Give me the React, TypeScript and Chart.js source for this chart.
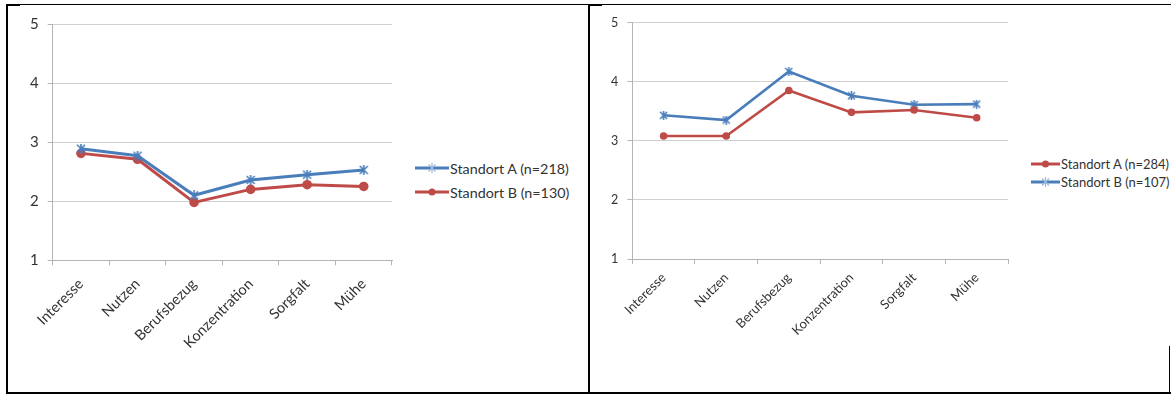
import React, { useEffect, useRef } from "react";
import { Chart, registerables } from "chart.js";

Chart.register(...registerables);

// Shared categories and value axis
const categories = ["Interesse", "Nutzen", "Berufsbezug", "Konzentration", "Sorgfalt", "Mühe"];
const yTicks = [1, 2, 3, 4, 5];

// Left panel
const leftLabelA = "Standort A (n=218)";
const leftValuesA = [2.89, 2.77, 2.1, 2.36, 2.45, 2.53];
const leftLabelB = "Standort B (n=130)";
const leftValuesB = [2.81, 2.71, 1.98, 2.2, 2.28, 2.25];

// Right panel
const rightLabelA = "Standort A (n=284)";
const rightValuesA = [3.08, 3.08, 3.85, 3.48, 3.52, 3.39];
const rightLabelB = "Standort B (n=107)";
const rightValuesB = [3.43, 3.35, 4.17, 3.76, 3.61, 3.62];

const BLUE = "#4a7ebb";
const RED = "#be4b48";
const FONT = "Lato, 'Open Sans', sans-serif";
const TEXT = "#333333";
const GRID = "#d0d0d0";
const AXIS = "#b4b4b4";

// Asterisk-shaped marker (two diagonals and a vertical stroke)
function makeStar(size: number, color: string): HTMLCanvasElement {
  const c = document.createElement("canvas");
  c.width = size;
  c.height = size;
  const g = c.getContext("2d")!;
  g.strokeStyle = color;
  g.lineWidth = 1.6;
  const m = 1;
  g.beginPath();
  g.moveTo(m, m);
  g.lineTo(size - m, size - m);
  g.moveTo(size - m, m);
  g.lineTo(m, size - m);
  g.moveTo(size / 2, 0);
  g.lineTo(size / 2, size);
  g.stroke();
  return c;
}

type Series = { label: string; values: number[]; color: string; marker: "circle" | "star" };

type PanelProps = {
  left: number;
  top: number;
  width: number;
  height: number;
  series: Series[];
  catFont: number;
  valFont: number;
  yAxisWidth: number;
  xAxisHeight: number;
  padTop: number;
  padRight: number;
  lineWidth: number;
  dotRadius: number;
  starSize: number;
  yPad: number;
  xPad: number;
};

function LinePanel(p: PanelProps) {
  const ref = useRef<HTMLCanvasElement>(null);
  useEffect(() => {
    const datasets = p.series.map((s) => ({
      label: s.label,
      data: s.values,
      borderColor: s.color,
      backgroundColor: s.color,
      borderWidth: p.lineWidth,
      pointStyle: s.marker === "star" ? makeStar(p.starSize, s.color) : "circle",
      pointRadius: p.dotRadius,
      pointBackgroundColor: s.color,
      pointBorderColor: s.color,
      pointBorderWidth: 0,
      tension: 0,
    }));
    const chart = new Chart(ref.current!, {
      type: "line",
      data: { labels: categories, datasets: datasets as any },
      options: {
        animation: false,
        responsive: false,
        maintainAspectRatio: false,
        layout: { padding: { top: p.padTop, right: p.padRight, left: 0, bottom: 0 } },
        plugins: { legend: { display: false }, tooltip: { enabled: false } },
        scales: {
          x: {
            offset: true,
            grid: {
              offset: true,
              drawOnChartArea: false,
              drawTicks: true,
              tickLength: 5,
              color: AXIS,
            },
            border: { color: AXIS, width: 1 },
            ticks: {
              autoSkip: false,
              maxRotation: 45,
              minRotation: 45,
              padding: p.xPad,
              color: TEXT,
              font: { family: FONT, size: p.catFont },
            },
            afterFit: (scale: any) => {
              scale.height = p.xAxisHeight;
            },
          },
          y: {
            min: 1,
            max: 5,
            afterBuildTicks: (scale: any) => {
              scale.ticks = yTicks.map((v) => ({ value: v }));
            },
            grid: { color: GRID, tickLength: 5, tickColor: AXIS },
            border: { color: AXIS, width: 1 },
            ticks: {
              padding: p.yPad,
              color: TEXT,
              font: { family: FONT, size: p.valFont },
            },
            afterFit: (scale: any) => {
              scale.width = p.yAxisWidth;
            },
          },
        },
      },
    });
    return () => chart.destroy();
  }, []);
  return (
    <canvas
      ref={ref}
      width={p.width}
      height={p.height}
      style={{ position: "absolute", left: p.left, top: p.top, width: p.width, height: p.height }}
    />
  );
}

function LegendMarker({ s, w }: { s: Series; w: number }) {
  const h = 10;
  const cx = w / 2;
  return (
    <svg width={w} height={h} style={{ display: "block", flex: "none" }}>
      <line x1={0} y1={h / 2} x2={w} y2={h / 2} stroke={s.color} strokeWidth={3} />
      {s.marker === "circle" ? (
        <circle cx={cx} cy={h / 2} r={3.5} fill={s.color} />
      ) : (
        <g stroke="#9dbbe0" strokeWidth={1.2}>
          <line x1={cx - 3.5} y1={h / 2 - 3.5} x2={cx + 3.5} y2={h / 2 + 3.5} />
          <line x1={cx + 3.5} y1={h / 2 - 3.5} x2={cx - 3.5} y2={h / 2 + 3.5} />
          <line x1={cx} y1={0} x2={cx} y2={h} />
        </g>
      )}
    </svg>
  );
}

function Legend({
  x,
  y,
  gap,
  lineW,
  fontSize,
  items,
}: {
  x: number;
  y: number;
  gap: number;
  lineW: number;
  fontSize: number;
  items: Series[];
}) {
  return (
    <div style={{ position: "absolute", left: x, top: y }}>
      {items.map((s, i) => (
        <div
          key={s.label}
          style={{
            position: "absolute",
            left: 0,
            top: i * gap - 10,
            height: 20,
            display: "flex",
            alignItems: "center",
            whiteSpace: "nowrap",
            fontFamily: FONT,
            fontSize,
            color: TEXT,
          }}
        >
          <LegendMarker s={s} w={lineW} />
          <span style={{ marginLeft: 1 }}>{s.label}</span>
        </div>
      ))}
    </div>
  );
}

const line = (l: number, t: number, w: number, h: number) => (
  <div style={{ position: "absolute", left: l, top: t, width: w, height: h, background: "#000" }} />
);

export default function App() {
  const leftSeries: Series[] = [
    { label: leftLabelA, values: leftValuesA, color: BLUE, marker: "star" },
    { label: leftLabelB, values: leftValuesB, color: RED, marker: "circle" },
  ];
  const rightSeries: Series[] = [
    { label: rightLabelA, values: rightValuesA, color: RED, marker: "circle" },
    { label: rightLabelB, values: rightValuesB, color: BLUE, marker: "star" },
  ];
  return (
    <div
      style={{
        position: "fixed",
        left: 0,
        top: 0,
        width: 1171,
        height: 394,
        background: "#fff",
        overflow: "hidden",
      }}
    >
      {/* frame */}
      {line(6, 4, 1165, 1)}
      {line(6, 4, 14, 2)}
      {line(588, 4, 14, 2)}
      {line(6, 4, 2, 390)}
      {line(588, 4, 2, 390)}
      {line(6, 392, 1165, 2)}
      {line(1169, 346, 1, 48)}

      <LinePanel
        left={10}
        top={6}
        width={390}
        height={384}
        series={leftSeries}
        catFont={14.6}
        valFont={15}
        yAxisWidth={42.7}
        xAxisHeight={129.7}
        padTop={16.7}
        padRight={8}
        lineWidth={3}
        dotRadius={4.8}
        starSize={10}
        yPad={9}
        xPad={10}
      />
      <Legend x={415} y={168} gap={24} lineW={34} fontSize={14.3} items={leftSeries} />

      <LinePanel
        left={592}
        top={6}
        width={420}
        height={384}
        series={rightSeries}
        catFont={13}
        valFont={12.5}
        yAxisWidth={40.3}
        xAxisHeight={131}
        padTop={15}
        padRight={2}
        lineWidth={2.6}
        dotRadius={3.8}
        starSize={9}
        yPad={9}
        xPad={6}
      />
      <Legend x={1031} y={164} gap={18} lineW={29} fontSize={13} items={rightSeries} />
    </div>
  );
}
